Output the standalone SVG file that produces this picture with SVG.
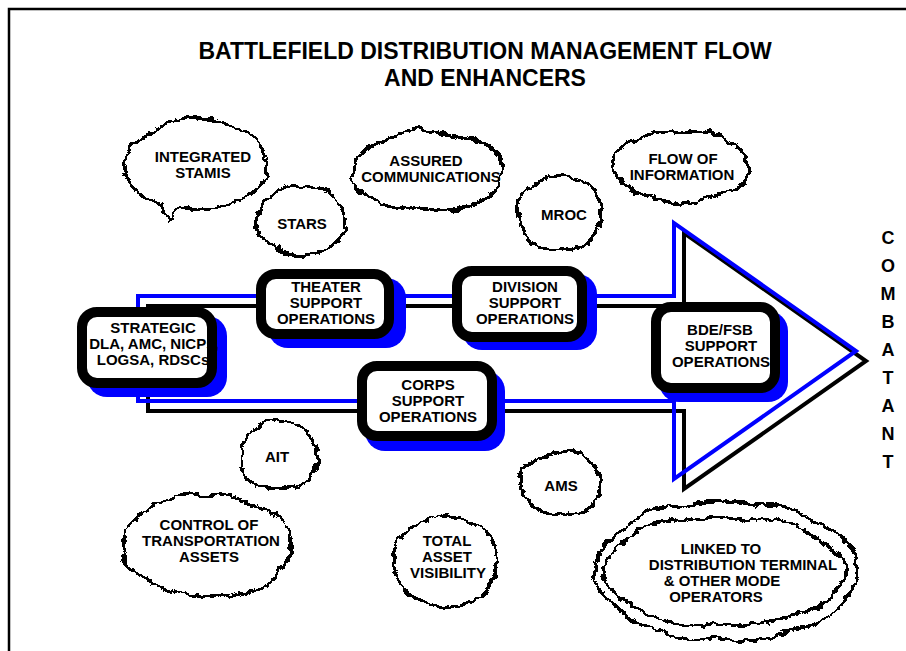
<svg xmlns="http://www.w3.org/2000/svg" width="906" height="651" viewBox="0 0 906 651">
<defs>
<style>
.t{font-family:"Liberation Sans",Arial,sans-serif;font-weight:bold;fill:#000;text-anchor:middle}
.title{font-size:23px}
.bt{font-size:15px}
.ct{font-size:15px}
.cb{font-size:18px}
.sh{fill:#0000ff}
.bx{fill:#fff;stroke:#000;stroke-width:10}
.cl{fill:#fff;stroke:#000;stroke-width:3;filter:url(#rough)}
.ab{fill:none;stroke:#000;stroke-width:4;stroke-linejoin:miter}
.au{fill:none;stroke:#0000ff;stroke-width:4;stroke-linejoin:miter}
</style>
<filter id="rough" x="-15%" y="-15%" width="130%" height="130%" color-interpolation-filters="sRGB">
<feTurbulence type="fractalNoise" baseFrequency="0.03" numOctaves="1" seed="7" result="lo"/>
<feDisplacementMap in="SourceGraphic" in2="lo" scale="13" xChannelSelector="R" yChannelSelector="G" result="d1"/>
<feTurbulence type="fractalNoise" baseFrequency="0.12" numOctaves="2" seed="3" result="hi"/>
<feDisplacementMap in="d1" in2="hi" scale="7" xChannelSelector="R" yChannelSelector="G" result="d2"/>
<feComponentTransfer in="d2">
<feFuncR type="discrete" tableValues="0 1"/>
<feFuncG type="discrete" tableValues="0 1"/>
<feFuncB type="discrete" tableValues="0 1"/>
<feFuncA type="discrete" tableValues="0 1"/>
</feComponentTransfer>
</filter>
</defs>
<rect width="906" height="651" fill="#fff"/>
<path d="M9,651 V9 H906" fill="none" stroke="#000" stroke-width="2.5"/>
<g id="title">
<text class="t title" x="485" y="59">BATTLEFIELD DISTRIBUTION MANAGEMENT FLOW</text>
<text class="t title" x="485" y="86">AND ENHANCERS</text>
</g>
<g id="connectors">
<path class="ab" d="M148,411 V306 H684 V233 L866,361 L684,489 V411 Z"/>
<path class="au" d="M138,401 V296 H674 V223 L856,351 L674,479 V401 Z"/>
</g>
<g id="strategic">
<rect class="sh" x="87" y="316" width="140" height="81" rx="20"/>
<rect class="bx" x="82" y="312" width="130" height="71" rx="15"/>
<text class="t bt" x="153" y="333">STRATEGIC</text>
<text class="t bt" x="154" y="349">DLA, AMC, NICPs,</text>
<text class="t bt" x="153" y="365">LOGSA, RDSCs</text>
</g>
<g id="theater">
<rect class="sh" x="268" y="278" width="138" height="70" rx="20"/>
<rect class="bx" x="261" y="274" width="128" height="60" rx="15"/>
<text class="t bt" x="326" y="292">THEATER</text>
<text class="t bt" x="326" y="308">SUPPORT</text>
<text class="t bt" x="326" y="324">OPERATIONS</text>
</g>
<g id="division">
<rect class="sh" x="462" y="274" width="135" height="76" rx="20"/>
<rect class="bx" x="457" y="271" width="125" height="66" rx="15"/>
<text class="t bt" x="525" y="292">DIVISION</text>
<text class="t bt" x="525" y="308">SUPPORT</text>
<text class="t bt" x="525" y="324">OPERATIONS</text>
</g>
<g id="corps">
<rect class="sh" x="365" y="371" width="140" height="80" rx="20"/>
<rect class="bx" x="362" y="366" width="130" height="70" rx="15"/>
<text class="t bt" x="428" y="389.5">CORPS</text>
<text class="t bt" x="428" y="405.5">SUPPORT</text>
<text class="t bt" x="428" y="421.5">OPERATIONS</text>
</g>
<g id="bde">
<rect class="sh" x="659" y="311" width="129" height="91" rx="20"/>
<rect class="bx" x="656" y="307" width="119" height="81" rx="15"/>
<text class="t bt" x="720" y="335">BDE/FSB</text>
<text class="t bt" x="721" y="351">SUPPORT</text>
<text class="t bt" x="721" y="367">OPERATIONS</text>
</g>
<g id="cloud-stamis">
<path class="cl" d="M178,207.5 A71,45 0 1 0 160,202.8 L167,218 Z"/>
<text class="t ct" x="203" y="162">INTEGRATED</text>
<text class="t ct" x="203" y="178">STAMIS</text>
</g>
<g id="cloud-stars">
<ellipse class="cl" cx="302" cy="220" rx="44" ry="36"/>
<text class="t ct" x="302" y="228.5">STARS</text>
</g>
<g id="cloud-comms">
<ellipse class="cl" cx="427" cy="171" rx="76" ry="40"/>
<text class="t ct" x="426" y="165.5">ASSURED</text>
<text class="t ct" x="431" y="181.5">COMMUNICATIONS</text>
</g>
<g id="cloud-mroc">
<ellipse class="cl" cx="560" cy="213" rx="42" ry="37"/>
<text class="t ct" x="564" y="219.5">MROC</text>
</g>
<g id="cloud-flow">
<ellipse class="cl" cx="682" cy="166" rx="67" ry="36"/>
<text class="t ct" x="683" y="164">FLOW OF</text>
<text class="t ct" x="682" y="180">INFORMATION</text>
</g>
<g id="cloud-ait">
<ellipse class="cl" cx="278" cy="455" rx="37" ry="36"/>
<text class="t ct" x="277" y="461.5">AIT</text>
</g>
<g id="cloud-transport">
<ellipse class="cl" cx="207" cy="546" rx="86" ry="51"/>
<text class="t ct" x="209" y="530">CONTROL OF</text>
<text class="t ct" x="211" y="546">TRANSPORTATION</text>
<text class="t ct" x="209" y="562">ASSETS</text>
</g>
<g id="cloud-tav">
<ellipse class="cl" cx="445" cy="562" rx="52" ry="46"/>
<text class="t ct" x="447" y="546">TOTAL</text>
<text class="t ct" x="447" y="562">ASSET</text>
<text class="t ct" x="448" y="578">VISIBILITY</text>
</g>
<g id="cloud-ams">
<ellipse class="cl" cx="561" cy="484" rx="40" ry="32"/>
<text class="t ct" x="561" y="490.5">AMS</text>
</g>
<g id="cloud-linked">
<ellipse class="cl" cx="726" cy="571" rx="131" ry="70"/>
<ellipse class="cl" cx="725" cy="571" rx="121" ry="55"/>
<text class="t ct" x="721" y="554">LINKED TO</text>
<text class="t ct" x="743" y="570">DISTRIBUTION TERMINAL</text>
<text class="t ct" x="722" y="586">&amp; OTHER MODE</text>
<text class="t ct" x="716" y="602">OPERATORS</text>
</g>
<g id="combatant">
<text class="t cb" x="888" y="243.5">C</text>
<text class="t cb" x="888" y="271.6">O</text>
<text class="t cb" x="888" y="299.7">M</text>
<text class="t cb" x="888" y="327.8">B</text>
<text class="t cb" x="888" y="355.9">A</text>
<text class="t cb" x="888" y="384">T</text>
<text class="t cb" x="888" y="412.1">A</text>
<text class="t cb" x="888" y="440.2">N</text>
<text class="t cb" x="888" y="468.3">T</text>
</g>
</svg>
